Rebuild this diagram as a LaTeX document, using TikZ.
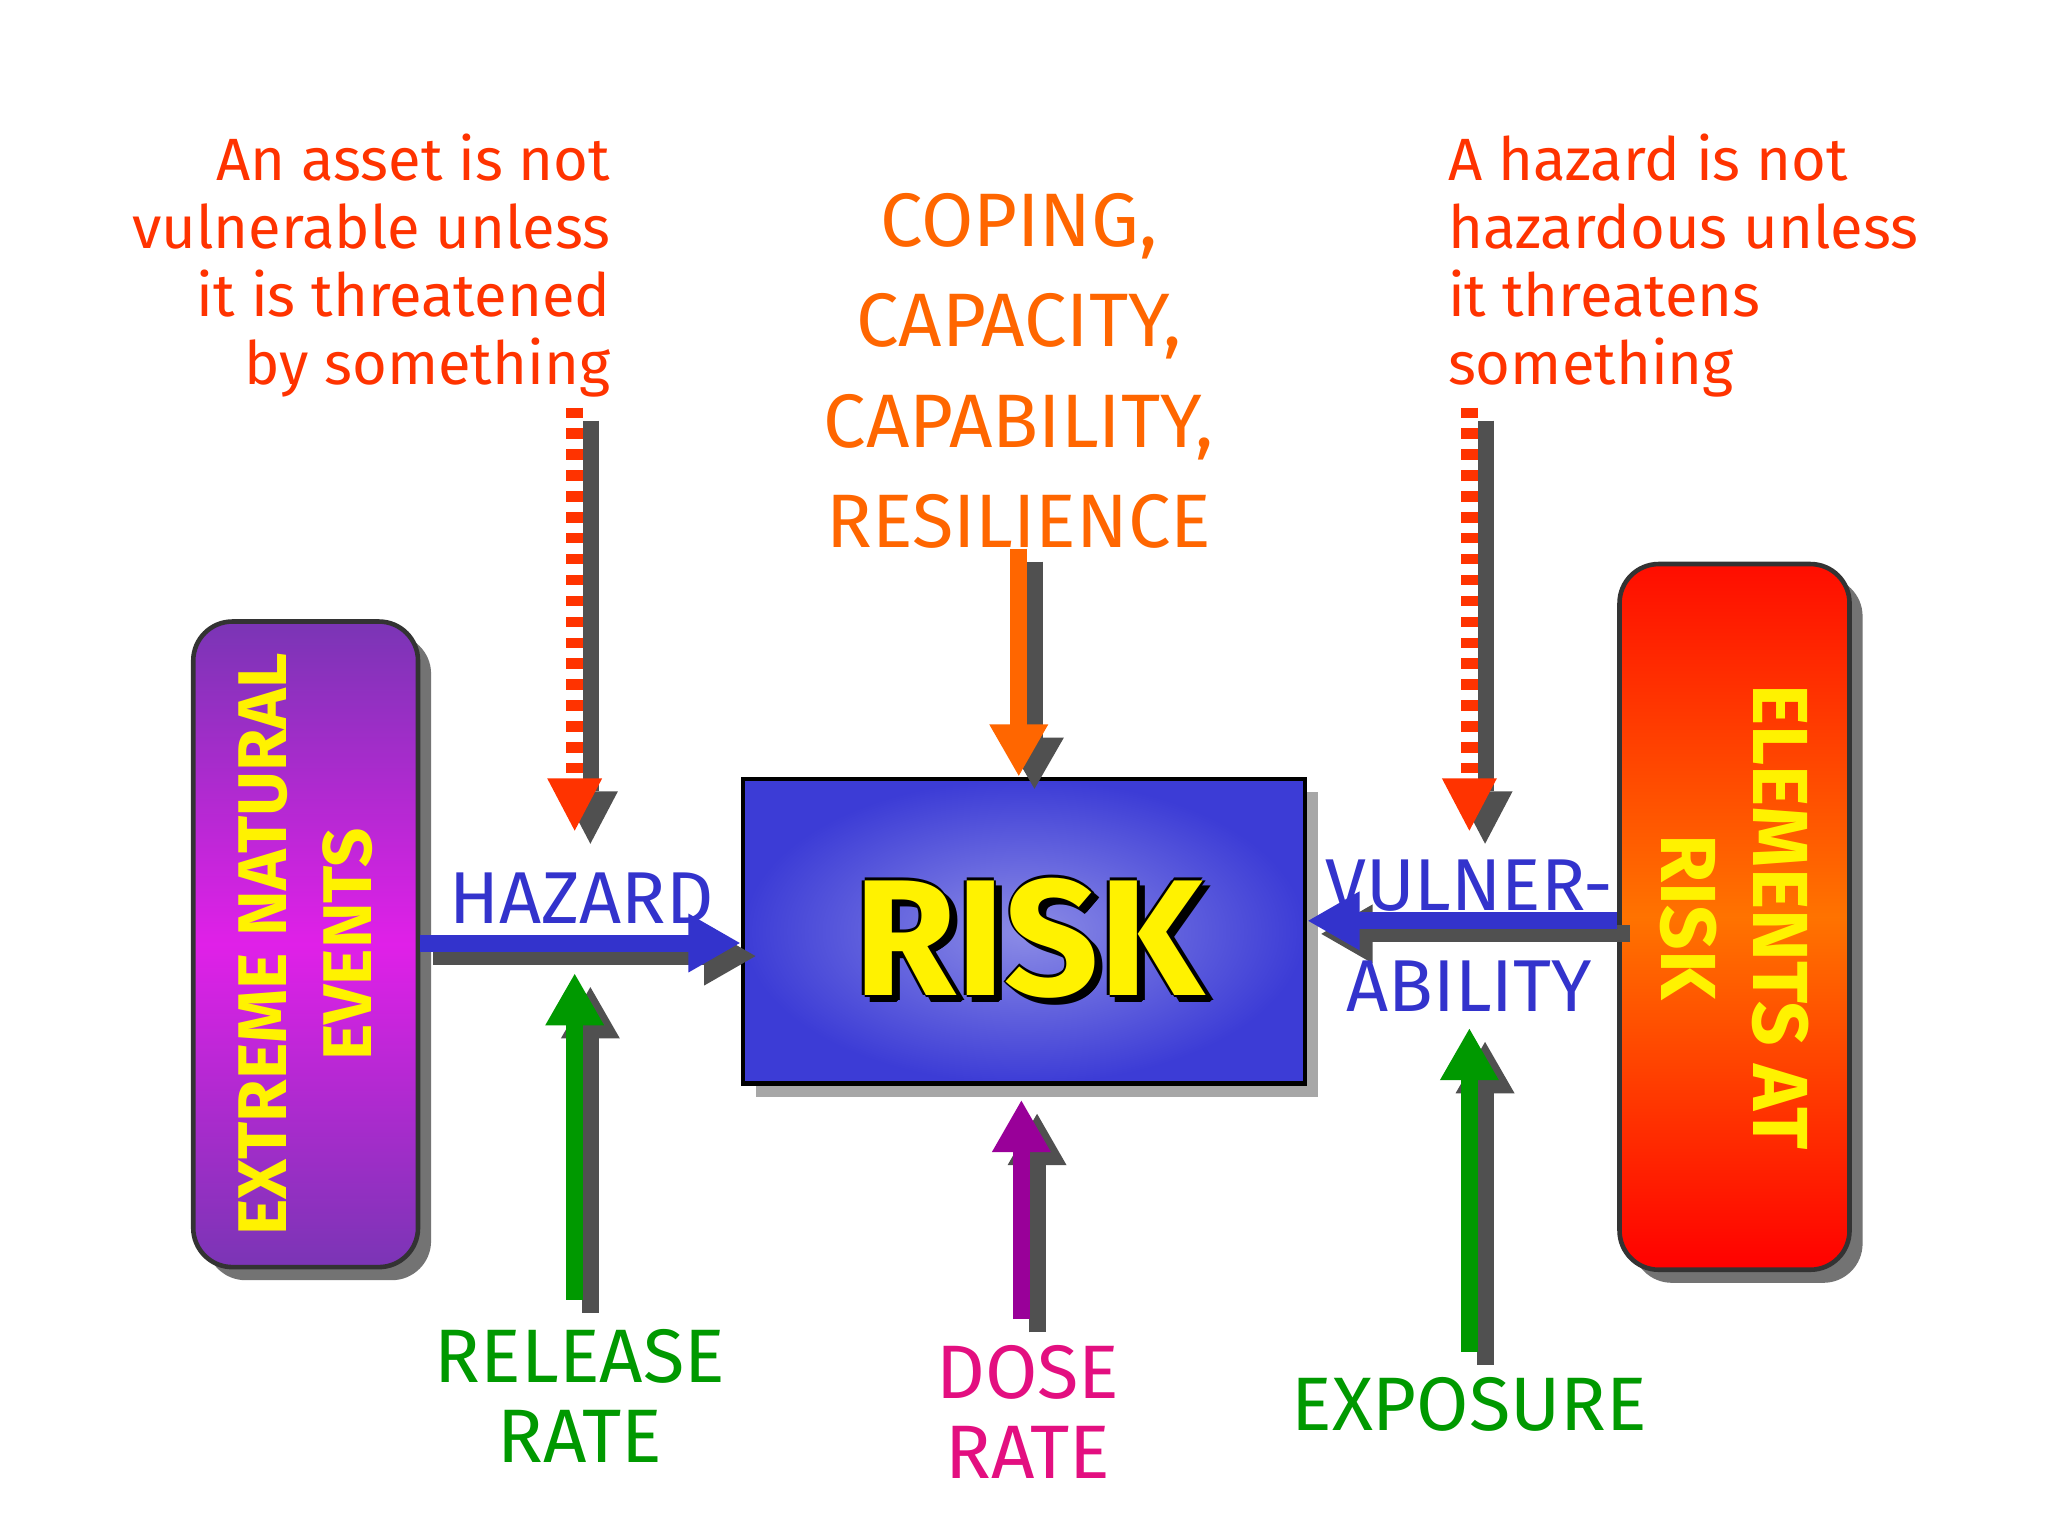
\documentclass[tikz,border=0pt]{standalone}
\usepackage{fontspec}
\setmainfont{Fira Sans}
\usetikzlibrary{arrows.meta,shadows}
\definecolor{txtred}{HTML}{FF3300}
\definecolor{txtorange}{HTML}{FF6600}
\definecolor{arrblue}{HTML}{3333CC}
\definecolor{arrgreen}{HTML}{009900}
\definecolor{arrpurple}{HTML}{990099}
\definecolor{shad}{HTML}{505050}
\definecolor{boxpurple}{HTML}{7A35B5}
\definecolor{boxmag}{HTML}{E020E8}
\definecolor{riskin}{HTML}{8C8CE6}
\definecolor{riskout}{HTML}{3C3CD6}
\tikzset{
 fat/.style={line width=0.13cm,-{Triangle[width=0.42cm,length=0.4cm]}},
 shadarrow/.style={fat,shad},
 checker/.style={line width=0.13cm,dash pattern=on 0.08cm off 0.08cm},
 box/.style={draw=black!80,line width=1pt,rounded corners=0.3cm,drop shadow={shadow xshift=0.1cm,shadow yshift=-0.1cm,fill=shad,opacity=0.8}},
 risktxt/.style={font=\fontsize{36}{40}\selectfont\bfseries},
 lab/.style={font=\fontsize{16}{20.5}\selectfont},
}
\begin{document}
\begin{tikzpicture}[x=0.01cm,y=-0.01cm]
\useasboundingbox (0,0) rectangle (1568,1176);
\fill[white] (0,0) rectangle (1568,1176);
% boxes
\node[box,minimum width=1.72cm,minimum height=4.94cm,top color=boxpurple,bottom color=boxpurple,middle color=boxmag] (ext) at (234,723) {};
\node[rotate=90,text=yellow,align=center,font=\fontsize{15}{18.5}\selectfont\bfseries] at (234,723) {EXTREME NATURAL\\EVENTS};
\node[box,minimum width=1.76cm,minimum height=5.4cm,top color=red!90!orange,bottom color=red,middle color=orange!90!red] (elem) at (1328,702) {};
\node[rotate=-90,text=yellow,align=center,font=\fontsize{17}{20}\selectfont\bfseries] at (1328,702) {ELEMENTS AT\\RISK};
\node[draw=black,line width=1pt,minimum width=4.3cm,minimum height=2.33cm,inner color=riskin,outer color=riskout,drop shadow={shadow xshift=0.1cm,shadow yshift=-0.1cm,fill=shad}] (risk) at (784,713) {};
\foreach \dx/\dy in {-2/0,2/0,0/-2,0/2,5/5,4/6,6/4}
 \node[risktxt,text=black] at (788+\dx,718+\dy) {RISK};
\node[risktxt,text=yellow] (risklbl) at (788,718) {RISK};
% coordinates
\coordinate (hz1) at (ext.east|-0,722);
\coordinate (vl1) at (elem.west|-0,705);
% hazard
\draw[shadarrow] ([xshift=0.1cm,yshift=-0.1cm]hz1) -- ([xshift=0.12cm,yshift=-0.1cm]risk.west|-hz1);
\draw[fat,arrblue] (hz1) -- (risk.west|-hz1);
\node[lab,text=arrblue] (hzl) at (445,688) {HAZARD};
% vulnerability
\draw[shadarrow] ([xshift=0.1cm,yshift=-0.1cm]vl1) -- ([xshift=0.1cm,yshift=-0.1cm]risk.east|-vl1);
\draw[fat,arrblue] (vl1) -- (risk.east|-vl1);
\node[lab,text=arrblue] (v1) at (1125,678) {VULNER-};
\node[lab,text=arrblue] (v2) at (1125,755) {ABILITY};
% coping
\coordinate (cp) at (780,420);
\draw[shadarrow] ([xshift=0.12cm,yshift=-0.1cm]cp) -- ([xshift=0.12cm,yshift=-0.1cm]risk.north-|cp);
\draw[fat,txtorange] (cp) -- (risk.north-|cp);
\node[text=txtorange,align=center,font=\fontsize{16.5}{21.8}\selectfont] (cop) at (780,284) {COPING,\\CAPACITY,\\CAPABILITY,\\RESILIENCE};
% dose rate
\coordinate (dr) at (782,1010);
\draw[shadarrow] ([xshift=0.12cm,yshift=-0.1cm]dr) -- ([xshift=0.12cm,yshift=-0.1cm]782,842);
\draw[fat,arrpurple] (dr) -- (782,842);
\node[text=magenta!80!purple,align=center,font=\fontsize{16.5}{17.5}\selectfont] (drl) at (787,1081) {DOSE\\RATE};
% release rate
\coordinate (rr) at (440,995);
\draw[shadarrow] ([xshift=0.12cm,yshift=-0.1cm]rr) -- ([xshift=0.12cm,yshift=-0.1cm]440,745);
\draw[fat,arrgreen] (rr) -- (440,745);
\node[text=arrgreen,align=center,font=\fontsize{16.5}{17.5}\selectfont] (rrl) at (444,1069) {RELEASE\\RATE};
% exposure
\coordinate (ex) at (1125,1035);
\draw[shadarrow] ([xshift=0.12cm,yshift=-0.1cm]ex) -- ([xshift=0.12cm,yshift=-0.1cm]1125,787);
\draw[fat,arrgreen] (ex) -- (1125,787);
\node[text=arrgreen,font=\fontsize{16.5}{20}\selectfont] (exl) at (1125,1075) {EXPOSURE};
% checkered arrows
\foreach \xx/\nm in {440/ca,1125/cb}{
 \coordinate (\nm s) at (\xx,312);
 \coordinate (\nm e) at (\xx,636);
 \draw[shad,line width=0.13cm] ([xshift=0.12cm,yshift=-0.1cm]\nm s) -- ([xshift=0.12cm,yshift=0.3cm]\nm e);
 \fill[shad] ([xshift=0.12cm,yshift=-0.1cm]\nm e) ++(-0.21cm,0.4cm) -- ++(0.42cm,0) -- ++(-0.21cm,-0.4cm) -- cycle;
 \draw[line width=0.13cm,white] (\nm s) -- ([yshift=0.38cm]\nm e);
 \draw[checker,txtred] (\nm s) -- ([yshift=0.38cm]\nm e);
 \fill[txtred] (\nm e) ++(-0.21cm,0.4cm) -- ++(0.42cm,0) -- ++(-0.21cm,-0.4cm) -- cycle;
}
% notes
\node[text=txtred,align=right,anchor=north east,font=\fontsize{13}{14.8}\selectfont,inner sep=0] (n1) at (468,102) {An asset is not\\vulnerable unless\\it is threatened\\by something};
\node[text=txtred,align=left,anchor=north west,font=\fontsize{13}{14.8}\selectfont,inner sep=0] (n2) at (1108,102) {A hazard is not\\hazardous unless\\it threatens\\something};
\end{tikzpicture}
\end{document}
